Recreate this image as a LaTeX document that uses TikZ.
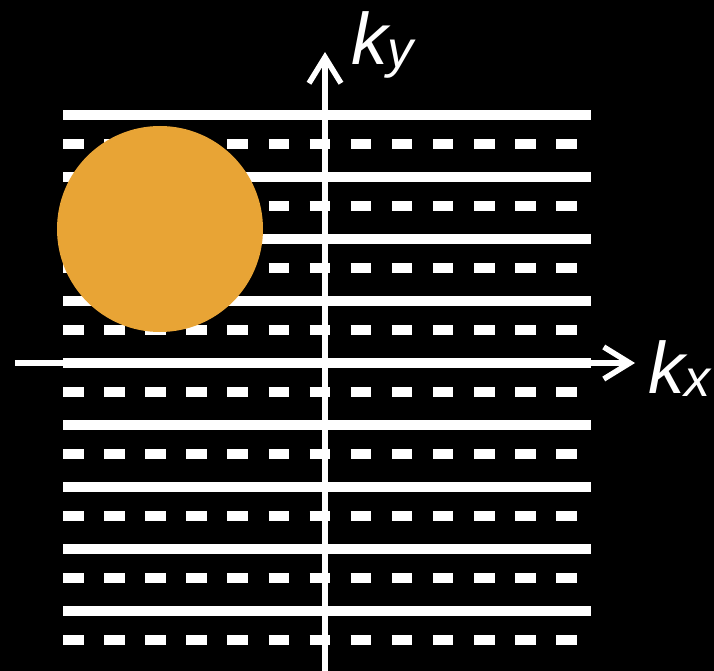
\documentclass[tikz,border=0pt]{standalone}
\usepackage{fontspec}
\setmainfont{Liberation Sans}
\usetikzlibrary{arrows.meta, positioning}
\definecolor{spot}{HTML}{E8A435}
\newcommand{\ksub}[1]{\raisebox{-3pt}{\fontsize{52}{52}\selectfont\itshape #1}}

\begin{document}
\begin{tikzpicture}[
    x = 1pt, y = -1pt,
    readout/.style = {
      draw = white, line width = 10pt, line cap = butt
    },
    skipped/.style = {
      readout, dash pattern = on 20.5pt off 20.6pt
    },
    axis/.style = {
      draw = white, line width = 6pt,
      -{Straight Barb[length = 26pt, width = 32pt, line width = 5.5pt]}
    },
    label/.style = {
      text = white, inner sep = 0pt, font = \fontsize{73}{73}\selectfont\itshape
    },
    ]
% background and frame
\fill [black] (0,0) rectangle (714,671);
\useasboundingbox (0,0) rectangle (714,671);

% sampled lines (solid) and skipped lines (dashed)
\foreach \i in {0,...,8} {
  \coordinate  (s_\i_l)  at  (63, 115 + 62*\i);
  \coordinate  (s_\i_r)  at  (591, 115 + 62*\i);
  \coordinate  (d_\i_l)  at  (63, 144 + 62*\i);
  \coordinate  (d_\i_r)  at  (578, 144 + 62*\i);
  \draw  [readout]  (s_\i_l)  --  (s_\i_r);
  \draw  [skipped]  (d_\i_l)  --  (d_\i_r);
}

% object
\node  [circle, fill = spot, minimum size = 206pt, inner sep = 0pt]  (spot)  at  (160,229)  {};

% axes
\coordinate  (kx_start)  at  (15,363);
\coordinate  (kx_end)  at  (635,363);
\coordinate  (ky_start)  at  (325,671);
\coordinate  (ky_end)  at  (325,52);
\draw  [axis]  (kx_start)  --  (kx_end);
\draw  [axis]  (ky_start)  --  (ky_end);

% labels
\node  [label, anchor = base west]  (kx)  at  (648,393)  {k\ksub{x}};
\node  [label, anchor = base west]  (ky)  at  (351,65)  {k\ksub{y}};
\end{tikzpicture}
\end{document}
